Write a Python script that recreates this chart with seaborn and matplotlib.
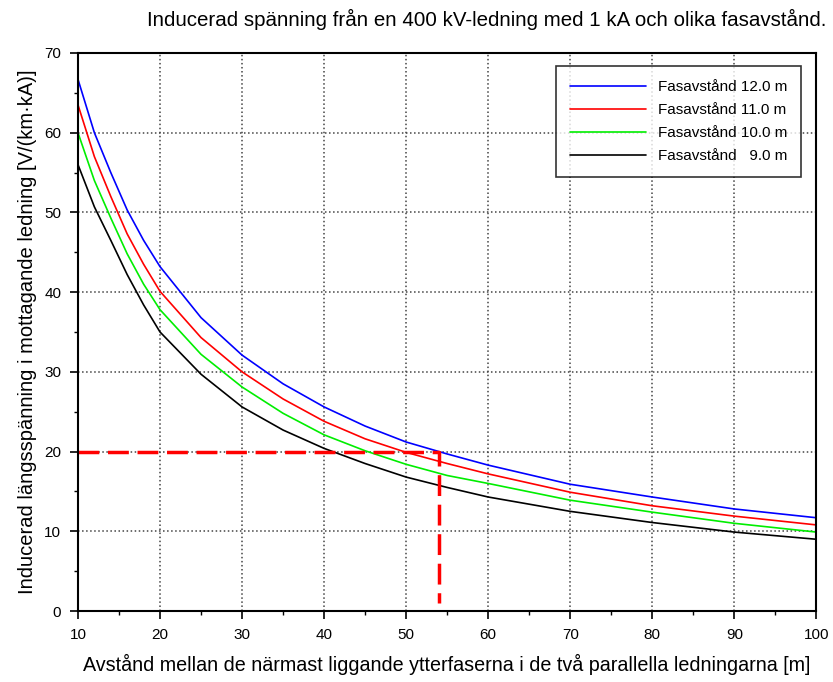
import seaborn as sns
import matplotlib.pyplot as plt
import pandas as pd

sns.set_style("white")
plt.rcParams['font.family'] = ['Liberation Sans', 'DejaVu Sans']
plt.rcParams['text.color'] = 'black'
plt.rcParams['axes.labelcolor'] = 'black'
plt.rcParams['xtick.color'] = 'black'
plt.rcParams['ytick.color'] = 'black'

# Avstånd [m]
avstand = [10, 12, 14, 16, 18, 20, 25, 30, 35, 40, 45, 50, 55, 60, 70, 80, 90, 100]

# Inducerad spänning [V/(km·kA)] per fasavstånd
fas_12 = [66.7, 60.0, 55.0, 50.3, 46.5, 43.2, 36.8, 32.1, 28.5, 25.6, 23.2, 21.2, 19.7, 18.3, 15.9, 14.3, 12.8, 11.7]
fas_11 = [63.5, 57.0, 52.0, 47.3, 43.5, 40.1, 34.3, 30.0, 26.6, 23.8, 21.6, 19.9, 18.5, 17.2, 14.9, 13.2, 11.9, 10.8]
fas_10 = [60.0, 54.0, 49.3, 44.8, 41.0, 37.8, 32.2, 28.1, 24.8, 22.1, 20.1, 18.4, 17.0, 16.0, 13.9, 12.4, 11.0, 9.9]
fas_9 = [56.0, 50.7, 46.5, 42.2, 38.4, 35.0, 29.7, 25.6, 22.7, 20.4, 18.5, 16.8, 15.5, 14.3, 12.5, 11.1, 9.9, 9.0]

labels = ["Fasavstånd 12.0 m", "Fasavstånd 11.0 m", "Fasavstånd 10.0 m", "Fasavstånd   9.0 m"]
colors = ["#0000ff", "#ff0000", "#00ee00", "#000000"]

# avläsning: 20 V/(km·kA) vid 54 m
las_x = [10, 54, 54]
las_y = [20, 20, 1]

df = pd.concat([
    pd.DataFrame({"x": avstand, "y": serie, "namn": namn})
    for serie, namn in zip([fas_12, fas_11, fas_10, fas_9], labels)
])

fig = plt.figure(figsize=(8.33, 6.82), dpi=100)
ax = fig.add_axes([0.0936, 0.1041, 0.8864, 0.8182])

sns.lineplot(data=df, x="x", y="y", hue="namn", palette=colors, linewidth=1.2, ax=ax)
ax.plot(las_x, las_y, color="#ff0000", linewidth=2.5, linestyle=(0, (6, 2.5)))

ax.set_xlim(10, 100)
ax.set_ylim(0, 70)
ax.set_xticks(range(10, 101, 10))
ax.set_yticks(range(0, 71, 10))
ax.set_xticks(range(15, 100, 10), minor=True)
ax.set_yticks(range(5, 70, 10), minor=True)
ax.grid(True, which="major", color="#444444", linestyle=":", linewidth=1.1)
ax.tick_params(which="major", direction="out", length=6, width=1.2, labelsize=11, bottom=True, left=True, pad=6)
ax.tick_params(which="minor", direction="out", length=3, width=1.0, bottom=True, left=True)
for sp in ax.spines.values():
    sp.set_color("black")
    sp.set_linewidth(1.5)

ax.set_xlabel("Avstånd mellan de närmast liggande ytterfaserna i de två parallella ledningarna [m]", fontsize=14.2, labelpad=9)
ax.set_ylabel("Inducerad längsspänning i mottagande ledning [V/(km·kA)]", fontsize=14.5, labelpad=5)
fig.text(0.584, 0.972, "Inducerad spänning från en 400 kV-ledning med 1 kA och olika fasavstånd.",
         ha="center", va="center", fontsize=14.8)

leg = ax.legend(loc="upper right", fontsize=11, frameon=True, fancybox=False, borderpad=0.9,
                handlelength=5.0, handletextpad=0.8, labelspacing=0.6, bbox_to_anchor=(0.99, 0.99))
leg.get_frame().set_edgecolor("black")
leg.get_frame().set_linewidth(1.2)

fig.savefig("out.png", dpi=100)
